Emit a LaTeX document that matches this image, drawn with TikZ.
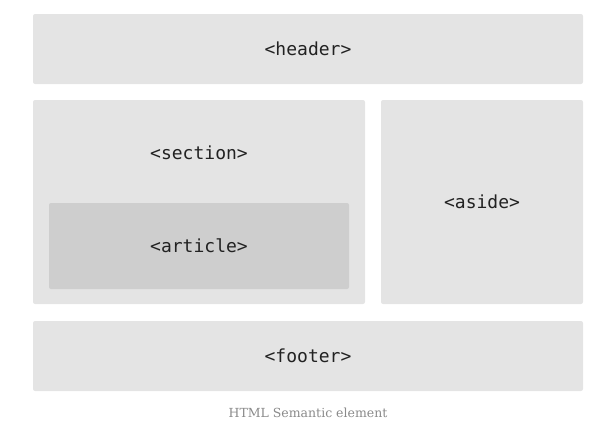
\documentclass[tikz,border=0pt]{standalone}
\usepackage{fontspec}
\setmonofont{DejaVu Sans Mono}
\newfontfamily\captionfont{DejaVu Serif}
\definecolor{boxgray}{HTML}{E4E4E4}
\definecolor{innergray}{HTML}{CECECE}
\definecolor{textgray}{HTML}{222222}
\definecolor{capgray}{HTML}{8A8A8A}
\tikzset{
    block/.style={fill=boxgray,rounded corners=2pt,inner sep=0pt,font=\ttfamily\fontsize{18}{20}\selectfont,text=textgray},
}
\begin{document}
\begin{tikzpicture}[x=1pt,y=-1pt]
        \useasboundingbox (0,0) rectangle (604,434);
        \node[block,minimum width=550pt,minimum height=70pt] (header) at (308,49) {<header>};
        \node[block,minimum width=332pt,minimum height=204pt] (section) at (199,202) {};
        \node[font=\ttfamily\fontsize{18}{20}\selectfont,text=textgray] (sectionlabel) at (199,153) {<section>};
        \node[block,fill=innergray,minimum width=300pt,minimum height=86pt] (article) at (199,246) {<article>};
        \node[block,minimum width=202pt,minimum height=204pt] (aside) at (482,202) {<aside>};
        \node[block,minimum width=550pt,minimum height=70pt] (footer) at (308,356) {<footer>};
        \node[font=\captionfont\fontsize{12.5}{14}\selectfont,text=capgray] (caption) at (308,413) {HTML Semantic element};
\end{tikzpicture}
\end{document}
